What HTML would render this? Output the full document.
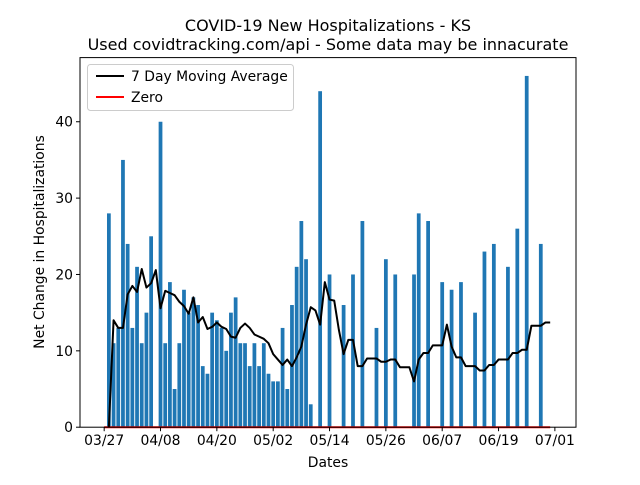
<!DOCTYPE html>
<html><head><meta charset="utf-8"><style>
body{margin:0;background:#fff}
svg text{font-family:"DejaVu Sans","Liberation Sans",sans-serif;fill:#000}
</style></head><body>
<svg id="chart" width="640" height="480" viewBox="0 0 640 480" xmlns="http://www.w3.org/2000/svg">
<rect width="640" height="480" fill="#fff"/>
<text x="328" y="31" font-size="16" text-anchor="middle">COVID-19 New Hospitalizations - KS</text>
<text x="328" y="50" font-size="16" text-anchor="middle">Used covidtracking.com/api - Some data may be innacurate</text>
<g id="plot"></g>
<rect x="80" y="57.6" width="496" height="369.6" fill="none" stroke="#000" stroke-width="1"/>
<text transform="translate(44,242) rotate(-90)" font-size="13.9" text-anchor="middle">Net Change in Hospitalizations</text>
<text x="328" y="467" font-size="13.9" text-anchor="middle">Dates</text>
<g>
<rect x="87.5" y="64.5" width="206" height="46" rx="3" fill="#fff" fill-opacity="0.8" stroke="#ccc"/>
<line x1="96" y1="76" x2="124" y2="76" stroke="#000" stroke-width="2"/>
<text x="131" y="81" font-size="13.9">7 Day Moving Average</text>
<line x1="96" y1="97" x2="124" y2="97" stroke="#f00" stroke-width="2"/>
<text x="131" y="102" font-size="13.9">Zero</text>
</g>
</svg>
<script>
const values = [0,28,11,13,35,24,13,21,11,15,25,0,40,11,19,5,11,18,15,17,16,8,7,15,14,13,10,15,17,11,11,8,11,8,11,7,6,6,13,5,16,21,27,22,3,0,44,0,20,0,0,16,0,20,0,27,0,0,13,0,22,0,20,0,0,0,20,28,0,27,0,0,19,0,18,0,19,0,0,15,0,23,0,24,0,0,21,0,26,0,46,0,0,24,0];
const xTickLabels = ["03/27","04/08","04/20","05/02","05/14","05/26","06/07","06/19","07/01"];
const xTickDays = [0,12,24,36,48,60,72,84,96];
const yTicks = [0,10,20,30,40];
const XMIN=-5.15, XMAX=100.5, YMIN=0, YMAX=48.4;
const L=80,R=576,T=57.6,B=427.2;
const sx=d=>L+(d-XMIN)/(XMAX-XMIN)*(R-L);
const sy=v=>B-(v-YMIN)/(YMAX-YMIN)*(B-T);
const NS="http://www.w3.org/2000/svg";
const svg=document.getElementById('chart');
const plot=document.getElementById('plot');
function mk(tag,attrs,parent){const e=document.createElementNS(NS,tag);for(const k in attrs)e.setAttribute(k,attrs[k]);(parent||plot).appendChild(e);return e;}
values.forEach((v,i)=>{
  if(v<=0)return;
  const w=(sx(0.8)-sx(0));
  const r=mk('rect',{x:sx(i)-w/2,y:sy(v),width:w,height:sy(0)-sy(v),fill:'#1f77b4'});
  
  
});
// zero line
const z=mk('line',{x1:sx(0),y1:sy(0),x2:sx(values.length),y2:sy(0),stroke:'#f00','stroke-width':2});


// moving average
const pts=[];
for(let d=1;d<=values.length;d++){
  const s=values.slice(Math.max(0,d-7),d);
  const m=s.reduce((a,b)=>a+b,0)/s.length;
  pts.push(sx(d).toFixed(2)+','+sy(m).toFixed(2));
}
const pl=mk('polyline',{points:pts.join(' '),fill:'none',stroke:'#000','stroke-width':2,'stroke-linejoin':'round'});


// ticks
xTickDays.forEach((d,i)=>{
  const x=sx(d);
  const t=mk('line',{x1:x,y1:B,x2:x,y2:B+4,stroke:'#000'},svg);
  
  
  const tx=mk('text',{x:x,y:B+18,'font-size':13.9,'text-anchor':'middle'},svg);
  tx.textContent=xTickLabels[i];
  
  
});
yTicks.forEach(v=>{
  const y=sy(v);
  const t=mk('line',{x1:L-4,y1:y,x2:L,y2:y,stroke:'#000'},svg);
  
  
  const tx=mk('text',{x:L-7,y:y+5,'font-size':13.9,'text-anchor':'end'},svg);
  tx.textContent=String(v);
  
  
});
</script>
</body></html>
